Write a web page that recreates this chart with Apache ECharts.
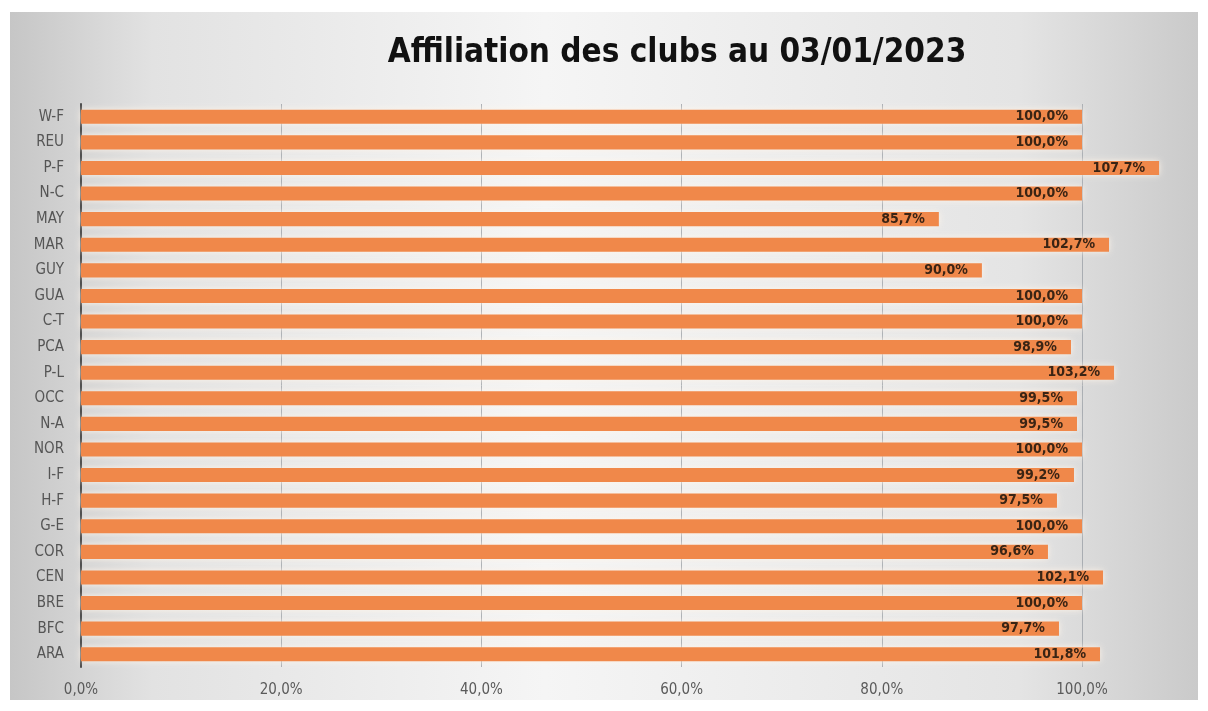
<!DOCTYPE html>
<html>
<head>
<meta charset="utf-8">
<script src="https://cdn.jsdelivr.net/npm/echarts@6/dist/echarts.min.js"></script>
<style>
  html, body { margin: 0; padding: 0; background: #fff; }
  #chart { width: 1208px; height: 711px; }
</style>
</head>
<body>
<div id="chart"></div>
<script>
// régions, de haut en bas
const regions = ['W-F', 'REU', 'P-F', 'N-C', 'MAY', 'MAR', 'GUY', 'GUA', 'C-T', 'PCA', 'P-L',
  'OCC', 'N-A', 'NOR', 'I-F', 'H-F', 'G-E', 'COR', 'CEN', 'BRE', 'BFC', 'ARA']
const affiliation = [100.0, 100.0, 107.7, 100.0, 85.7, 102.7, 90.0, 100.0, 100.0, 98.9, 103.2,
  99.5, 99.5, 100.0, 99.2, 97.5, 100.0, 96.6, 102.1, 100.0, 97.7, 101.8]
const xTicks = [0, 20, 40, 60, 80, 100]

const narrow = "'Liberation Sans Narrow', 'Arial Narrow', 'DejaVu Sans Condensed', sans-serif"
const fmt = (v) => v.toFixed(1).replace('.', ',') + '%'

const chart = echarts.init(document.getElementById('chart'))
const option = {
  animation: false,
  graphic: [{
    type: 'rect',
    z: -10,
    shape: { x: 10, y: 12, width: 1188, height: 688 },
    style: {
      fill: {
        type: 'linear', x: 0, y: 0, x2: 1, y2: 0,
        colorStops: [
          { offset: 0, color: '#c6c6c6' },
          { offset: 0.12, color: '#e2e2e2' },
          { offset: 0.45, color: '#f5f5f5' },
          { offset: 0.85, color: '#e4e4e4' },
          { offset: 1, color: '#cacaca' }
        ]
      }
    }
  }],
  title: {
    text: 'Affiliation des clubs au 03/01/2023',
    left: 672,
    top: 32,
    textAlign: 'center',
    textStyle: { fontFamily: narrow, fontSize: 33, fontWeight: 'bold', color: '#111' }
  },
  grid: { left: 81, right: 126, top: 104, bottom: 44 },
  xAxis: {
    type: 'value',
    min: xTicks[0],
    max: xTicks[xTicks.length - 1],
    interval: 20,
    axisLine: { show: false },
    axisTick: { show: false },
    splitLine: { lineStyle: { color: '#a9adb2', width: 1 } },
    axisLabel: { formatter: fmt, color: '#5a5a5a', fontSize: 15, fontFamily: narrow, margin: 16 }
  },
  yAxis: {
    type: 'category',
    data: regions,
    inverse: true,
    axisLine: { lineStyle: { color: '#4a4a4a', width: 2 } },
    axisTick: { show: false },
    axisLabel: { color: '#555', fontSize: 15, fontFamily: narrow, margin: 17 }
  },
  series: [{
    type: 'bar',
    data: affiliation,
    clip: false,
    barWidth: '55%',
    itemStyle: {
      color: '#f0884a',
      shadowColor: 'rgba(255,244,232,0.95)',
      shadowBlur: 6
    },
    label: {
      show: true,
      position: 'insideRight',
      distance: 14,
      formatter: (p) => fmt(p.value),
      color: '#3a2414',
      fontSize: 14,
      fontWeight: 'bold',
      fontFamily: narrow
    }
  }]
}
chart.setOption(option)
</script>
</body>
</html>
